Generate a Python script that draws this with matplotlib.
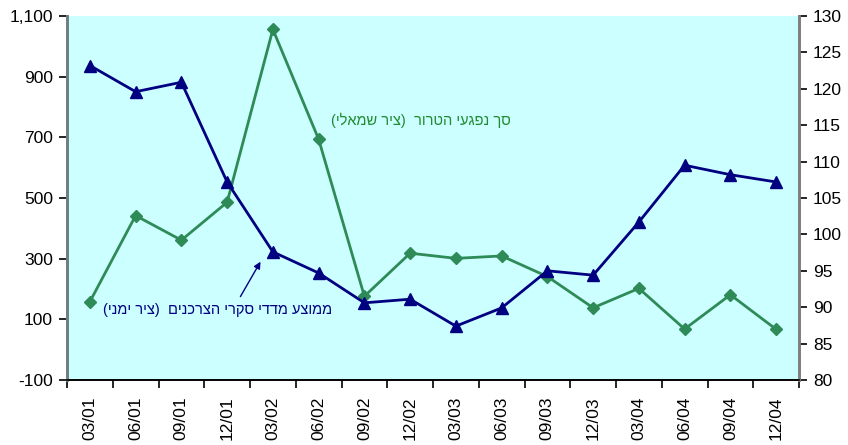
import matplotlib.pyplot as plt
from matplotlib.ticker import FuncFormatter, FixedLocator

plt.rcParams['font.family'] = ['Liberation Sans', 'DejaVu Sans']

quarters = ['03/01', '06/01', '09/01', '12/01', '03/02', '06/02', '09/02', '12/02',
            '03/03', '06/03', '09/03', '12/03', '03/04', '06/04', '09/04', '12/04']
terror_victims = [158, 442, 361, 486, 1056, 694, 176, 318, 301, 309, 241, 138, 202, 68, 181, 67]
consumer_index = [123.2, 119.6, 120.9, 107.2, 97.6, 94.7, 90.6, 91.1, 87.4, 89.9, 95.0, 94.4,
                  101.7, 109.5, 108.2, 107.2]

label_terror = 'סך נפגעי הטרור  (ציר שמאלי)'
label_index = 'ממוצע מדדי סקרי הצרכנים  (ציר ימני)'


def visual(s):
    # matplotlib has no bidi support: reverse and mirror brackets
    swap = {'(': ')', ')': '('}
    return ''.join(swap.get(c, c) for c in reversed(s))


green = '#2E8B57'
navy = '#000080'

fig = plt.figure(figsize=(8.48, 4.45), dpi=100)
ax = fig.add_axes([67 / 848, 1 - 380 / 445, 732 / 848, 364 / 445])
ax.set_facecolor('#CCFFFF')
x = list(range(len(quarters)))

ax.plot(x, terror_victims, color=green, lw=2, marker='D', ms=6.5, zorder=3)
ax.set_ylim(-100, 1100)
ax.set_yticks(range(-100, 1101, 200))
ax.yaxis.set_major_formatter(FuncFormatter(lambda v, p: f'{int(v):,}'))
ax.set_xlim(-0.5, len(quarters) - 0.5)
ax.xaxis.set_major_locator(FixedLocator([i - 0.5 for i in range(len(quarters) + 1)]))
ax.xaxis.set_major_formatter(FuncFormatter(lambda v, p: ''))
ax.set_xticks(x, minor=True)
ax.set_xticklabels(quarters, minor=True, rotation=90)
ax.tick_params(axis='x', which='minor', length=0, pad=12, labelsize=12.5)
ax.tick_params(axis='x', which='major', length=6, width=1.2, direction='out')
ax.tick_params(axis='y', length=6, width=1.2, labelsize=12.5, pad=4)

ax2 = ax.twinx()
ax2.plot(x, consumer_index, color=navy, lw=2, marker='^', ms=8.5, zorder=3)
ax2.set_ylim(80, 130)
ax2.set_yticks(range(80, 131, 5))
ax2.tick_params(axis='y', length=6, width=1.2, labelsize=12.5, pad=4)

for a in (ax, ax2):
    a.spines['top'].set_visible(False)
    a.spines['left'].set_color('#708080')
    a.spines['right'].set_color('#808080')
    a.spines['left'].set_linewidth(2)
    a.spines['right'].set_linewidth(2)
    a.spines['bottom'].set_linewidth(1.2)

ax.text(7.24, 757, visual(label_terror), color='#1E8B2E', fontsize=10.5,
        ha='center', va='center', zorder=5)
ax.text(2.79, 131, visual(label_index), color=navy, fontsize=10.5,
        ha='center', va='center', zorder=5)
ax.annotate('', xy=(3.76, 298), xytext=(3.26, 167),
            arrowprops=dict(arrowstyle='-|>', color=navy, lw=1, mutation_scale=10))

fig.savefig('out.png', dpi=100)
